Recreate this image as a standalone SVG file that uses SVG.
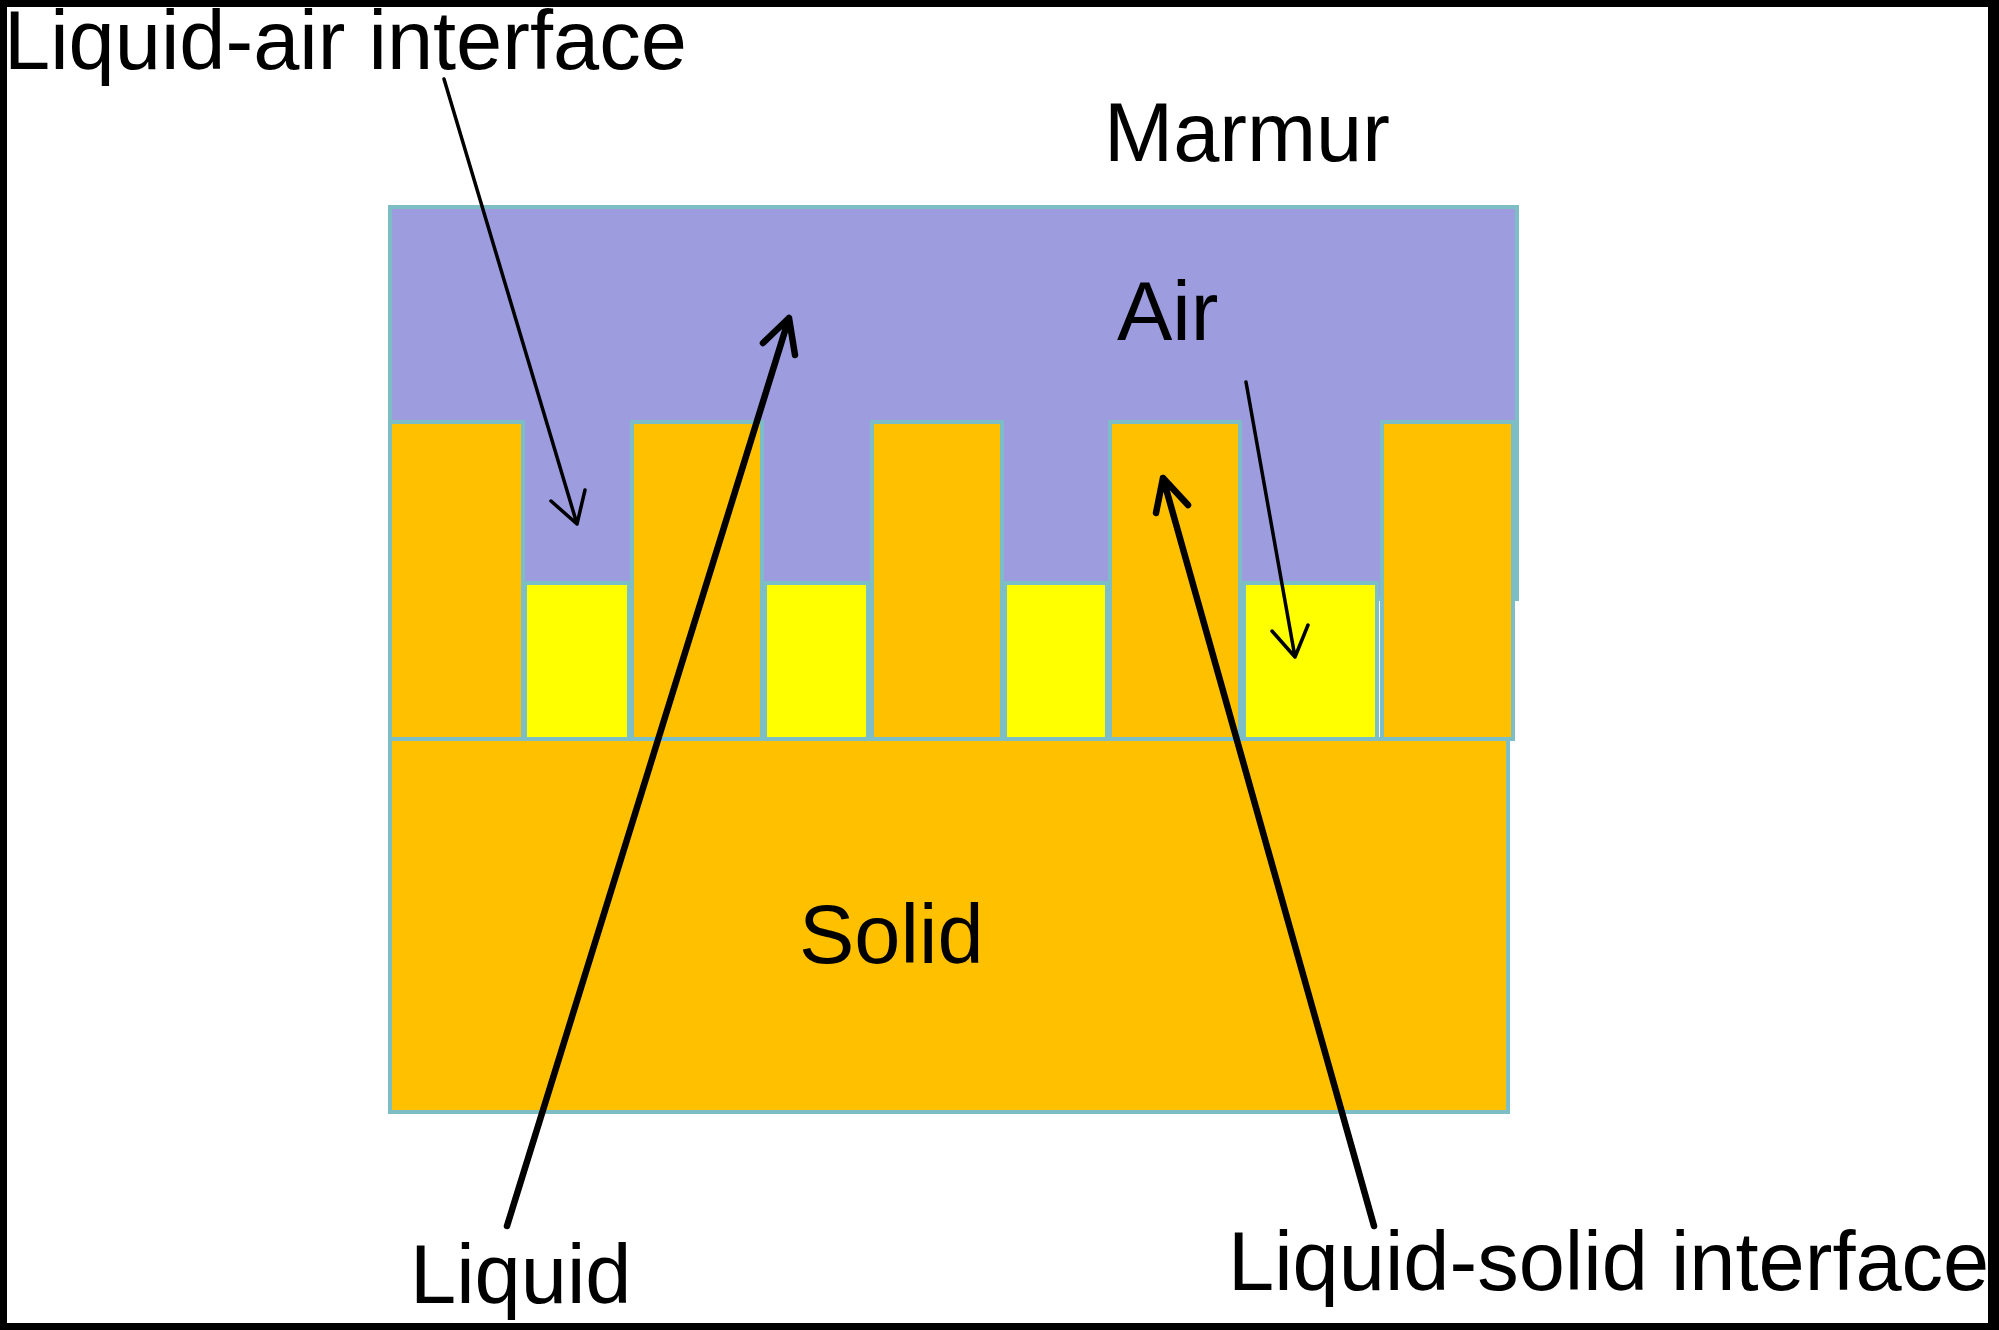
<svg xmlns="http://www.w3.org/2000/svg" width="1999" height="1330" viewBox="0 0 1999 1330">
<style>
.lbl{font-family:"Liberation Sans",Arial,sans-serif;font-size:83px;fill:#000}
.sh{stroke:#7DBEC6;stroke-width:4}
.air{fill:#9C9CDE}
.sol{fill:#FFC000}
.liq{fill:#FFFF00}
.thin{stroke:#000;stroke-width:3.5;fill:none;stroke-linecap:round;stroke-linejoin:round}
.thick{stroke:#000;stroke-width:6.5;fill:none;stroke-linecap:round;stroke-linejoin:round}
</style>
<rect x="0" y="0" width="1999" height="1330" fill="#fff"/>
<g id="frame" fill="#000">
<rect x="0" y="0" width="1999" height="7"/>
<rect x="0" y="0" width="7" height="1330"/>
<rect x="1988" y="0" width="11" height="1330"/>
<rect x="0" y="1323" width="1999" height="7"/>
</g>
<g id="air">
<rect class="air sh" x="390" y="207" width="1127" height="392"/>
</g>
<g id="pillars">
<rect class="sol sh" x="390" y="422" width="133" height="317"/>
<rect class="sol sh" x="632" y="422" width="130" height="317"/>
<rect class="sol sh" x="872" y="422" width="130" height="317"/>
<rect class="sol sh" x="1110" y="422" width="130" height="317"/>
<rect class="sol sh" x="1382" y="422" width="131" height="317"/>
</g>
<g id="liquid">
<rect class="liq sh" x="525" y="583" width="104" height="156"/>
<rect class="liq sh" x="765" y="583" width="103" height="156"/>
<rect class="liq sh" x="1005" y="583" width="102" height="156"/>
<rect class="liq sh" x="1244" y="583" width="133" height="156"/>
</g>
<g id="solid">
<rect class="sol sh" x="390" y="739" width="1118" height="373"/>
</g>
<g id="connectors">
<path class="thin" d="M444 79 L577 524 M551 501 L577 524 L585 490"/>
<path class="thick" d="M507 1226 L789 318 M763 343 L789 318 L795 355"/>
<path class="thick" d="M1374 1226 L1163 478 M1156 513 L1163 478 L1188 505"/>
<path class="thin" d="M1246 382 L1295 657 M1272 631 L1295 657 L1308 625"/>
</g>
<g id="labels">
<text class="lbl" x="4" y="69">Liquid-air interface</text>
<text class="lbl" x="1104" y="161">Marmur</text>
<text class="lbl" x="1117" y="340">Air</text>
<text class="lbl" x="799" y="963">Solid</text>
<text class="lbl" x="410" y="1303">Liquid</text>
<text class="lbl" x="1228" y="1290">Liquid-solid interface</text>
</g>
</svg>
